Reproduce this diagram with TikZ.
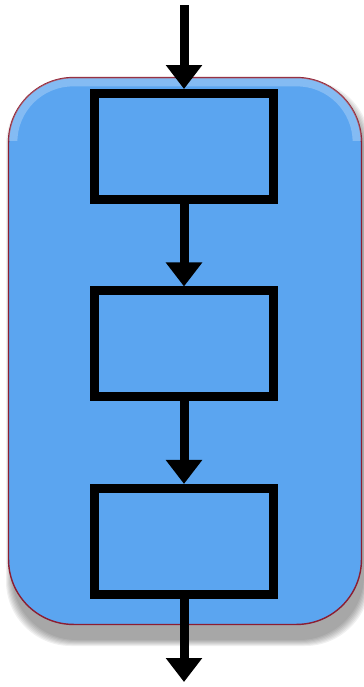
\documentclass[tikz,border=0pt]{standalone}
\usetikzlibrary{arrows.meta,positioning}

\definecolor{panelblue}{RGB}{91,165,240}
\definecolor{panelrim}{RGB}{140,30,50}

\begin{document}
\begin{tikzpicture}
  [x=0.02cm,y=-0.02cm,
   % Styles
   panel/.style={rounded corners=1.3cm,draw=panelrim,line width=0.8pt,
     fill=panelblue,inner sep=0pt,minimum width=7.06cm,minimum height=10.94cm},
   stage/.style={draw,line width=0.18cm,fill=panelblue,inner sep=0pt,
     minimum width=3.58cm,minimum height=2.12cm},
   flow/.style={line width=0.18cm,-{Triangle[length=0.48cm,width=0.7cm]}},
   node distance=1.65cm]

  \useasboundingbox (0,0) rectangle (364,687);

  % Soft shadow under the container
  \foreach \s in {0,2,...,12}
    \fill[black,opacity=0.06,rounded corners=1.3cm]
      (12-\s/2,86-\s/2) rectangle (364+\s/2,640+\s/2);

  % The container
  \node[panel] (block) at (185,351) {};
  \begin{scope}
    \clip (8,77) rectangle (362,140);
    \draw[white,opacity=0.25,line width=5pt,rounded corners=1.2cm]
      (13,82) rectangle (357,620);
  \end{scope}

  % The stages
  \node[stage] (stage1) at (184,146.5) {};
  \node[stage,below=of stage1] (stage2) {};
  \node[stage,below=of stage2] (stage3) {};

  % Flow
  \coordinate (in) at (184,5);
  \coordinate (out) at (184,682);
  \draw[flow] (in) -- (stage1);
  \draw[flow] (stage1) -- (stage2);
  \draw[flow] (stage2) -- (stage3);
  \draw[flow] (stage3) -- (out);
\end{tikzpicture}
\end{document}
